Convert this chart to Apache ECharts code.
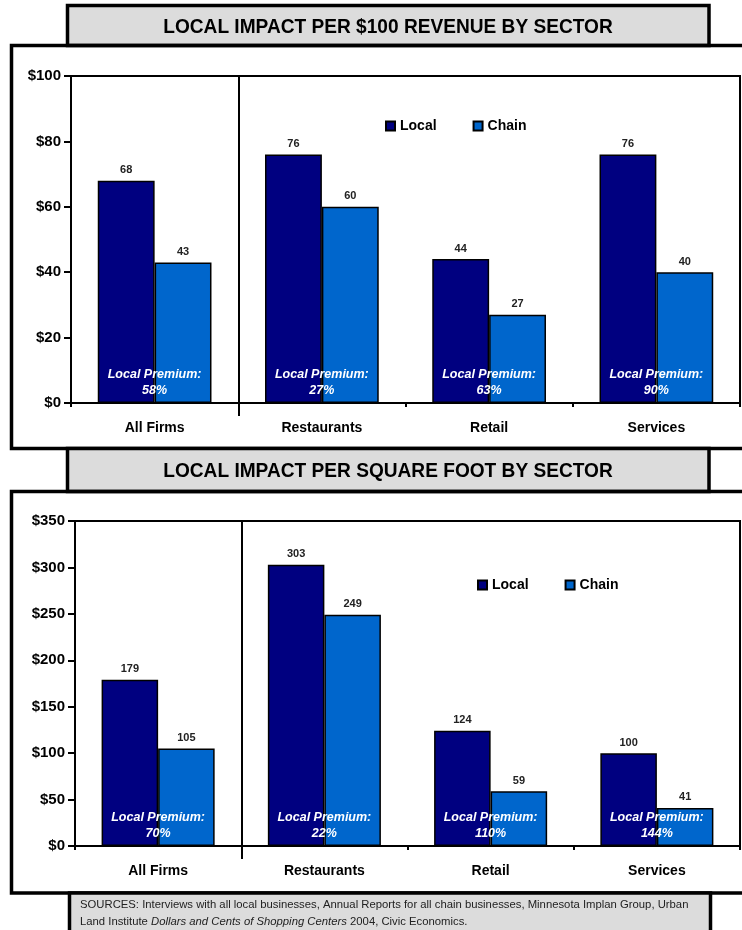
<!DOCTYPE html>
<html>
<head>
<meta charset="utf-8">
<script src="https://cdn.jsdelivr.net/npm/echarts@6/dist/echarts.min.js"></script>
<style>
  html, body { margin: 0; padding: 0; background: #fff; }
  #chart { width: 742px; height: 930px; }
</style>
</head>
<body>
<div id="chart"></div>
<script>
// Sector categories shared by both panels
const sectors = ['All Firms', 'Restaurants', 'Retail', 'Services'];

// Panel 1: local impact per $100 of revenue
const revenueLocal = [68, 76, 44, 76];
const revenueChain = [43, 60, 27, 40];
const revenuePremium = ['58%', '27%', '63%', '90%'];
const revenueAxis = { min: 0, max: 100, interval: 20 };

// Panel 2: local impact per square foot
const sqftLocal = [179, 303, 124, 100];
const sqftChain = [105, 249, 59, 41];
const sqftPremium = ['70%', '22%', '110%', '144%'];
const sqftAxis = { min: 0, max: 350, interval: 50 };

const panelTitles = [
  'LOCAL IMPACT PER $100 REVENUE BY SECTOR',
  'LOCAL IMPACT PER SQUARE FOOT BY SECTOR'
];
const seriesNames = ['Local', 'Chain'];
const sourceLine1 = 'SOURCES: Interviews with all local businesses, Annual Reports for all chain businesses, Minnesota Implan Group, Urban';
const sourceLine2a = 'Land Institute ';
const sourceLine2b = 'Dollars and Cents of Shopping Centers';
const sourceLine2c = ' 2004, Civic Economics.';

const FONT = '"Liberation Sans", Arial, sans-serif';
const LOCAL_COLOR = '#000080';
const CHAIN_COLOR = '#0066CC';
const BOX_FILL = '#dcdcdc';

const panels = [
  { local: revenueLocal, chain: revenueChain, premium: revenuePremium, axis: revenueAxis,
    grid: { left: 71, top: 76, width: 669, height: 327 }, legend: { left: 380, top: 114 } },
  { local: sqftLocal, chain: sqftChain, premium: sqftPremium, axis: sqftAxis,
    grid: { left: 75, top: 521, width: 665, height: 325 }, legend: { left: 472, top: 573 } }
];

const blackLine = { color: '#000', width: 2 };

const option = {
  backgroundColor: '#fff',
  animation: false,
  grid: panels.map(p => Object.assign({
    show: true, borderColor: '#000', borderWidth: 2, backgroundColor: 'transparent'
  }, p.grid)),
  xAxis: [],
  yAxis: [],
  legend: [],
  series: [],
  graphic: []
};

panels.forEach((p, i) => {
  // category axis carrying the bars
  option.xAxis.push({
    gridIndex: i, type: 'category', data: sectors,
    axisLine: { lineStyle: blackLine },
    axisTick: { show: true, length: 4, lineStyle: blackLine },
    axisLabel: { fontFamily: FONT, fontWeight: 'bold', fontSize: 14, color: '#000', margin: 18 },
    splitLine: { show: false }
  });
  // helper axis: divider between "All Firms" and the individual sectors
  option.xAxis.push({
    gridIndex: i, type: 'value', min: 0, max: sectors.length, position: 'bottom',
    axisLine: { show: false },
    axisLabel: { show: false },
    axisTick: { show: true, customValues: [1], length: 13, lineStyle: blackLine },
    splitLine: { show: true, lineStyle: blackLine }
  });
  option.yAxis.push({
    gridIndex: i, type: 'value',
    min: p.axis.min, max: p.axis.max, interval: p.axis.interval,
    axisLine: { show: true, lineStyle: blackLine },
    axisTick: { show: true, length: 7, lineStyle: blackLine },
    axisLabel: { formatter: v => '$' + v, fontFamily: FONT, fontWeight: 'bold', fontSize: 15, color: '#000', margin: 10 },
    splitLine: { show: false }
  });
  option.legend.push({
    data: seriesNames, left: p.legend.left, top: p.legend.top,
    orient: 'horizontal', icon: 'rect', itemWidth: 9, itemHeight: 9, itemGap: 36,
    selectedMode: false,
    itemStyle: { borderColor: '#000', borderWidth: 2 },
    textStyle: { fontFamily: FONT, fontWeight: 'bold', fontSize: 14, color: '#000' }
  });
  const valueLabel = {
    show: true, position: 'top', distance: 5,
    fontFamily: FONT, fontWeight: 'bold', fontSize: 11, color: '#222'
  };
  option.series.push({
    type: 'bar', name: seriesNames[0], xAxisIndex: 2 * i, yAxisIndex: i, data: p.local,
    barGap: '0%', barCategoryGap: '32%',
    itemStyle: { color: LOCAL_COLOR, borderColor: '#000', borderWidth: 1.5 },
    label: valueLabel
  });
  option.series.push({
    type: 'bar', name: seriesNames[1], xAxisIndex: 2 * i, yAxisIndex: i, data: p.chain,
    barGap: '0%', barCategoryGap: '32%',
    itemStyle: { color: CHAIN_COLOR, borderColor: '#000', borderWidth: 1.5 },
    label: valueLabel
  });
  // "Local Premium" notes centred on each category, just above the baseline
  option.series.push({
    type: 'scatter', name: 'premium' + i, xAxisIndex: 2 * i, yAxisIndex: i,
    data: p.premium.map(() => 0), symbolSize: 2, silent: true, z: 5, clip: false,
    itemStyle: { color: 'rgba(0,0,0,0)', opacity: 1 },
    emphasis: { disabled: true },
    label: {
      show: true, position: 'inside', offset: [0, -20], opacity: 1,
      formatter: d => 'Local Premium:\n' + p.premium[d.dataIndex],
      color: '#fff', textBorderWidth: 0, fontFamily: FONT, fontStyle: 'italic', fontWeight: 'bold',
      fontSize: 12.5, lineHeight: 16, align: 'center', verticalAlign: 'middle'
    }
  });
});

// Panel frames, title banners and the source note
const titleText = (text, y) => ({
  type: 'text', z: 2, x: 388, y: y, scaleX: 0.91,
  style: { x: 0, y: 0, text: text, align: 'center', verticalAlign: 'middle',
    font: 'bold 21px ' + FONT, fill: '#000' }
});
option.graphic = [
  { type: 'rect', z: 1, shape: { x: 67.5, y: 5.5, width: 641.5, height: 40 },
    style: { fill: BOX_FILL, stroke: '#000', lineWidth: 3.5 } },
  titleText(panelTitles[0], 27),
  { type: 'rect', z: 1, shape: { x: 11.5, y: 45.5, width: 800, height: 403 },
    style: { fill: 'none', stroke: '#000', lineWidth: 3.5 } },
  { type: 'rect', z: 1, shape: { x: 67.5, y: 448.5, width: 641.5, height: 43 },
    style: { fill: BOX_FILL, stroke: '#000', lineWidth: 3.5 } },
  titleText(panelTitles[1], 471),
  { type: 'rect', z: 1, shape: { x: 11.5, y: 491.5, width: 800, height: 401.5 },
    style: { fill: 'none', stroke: '#000', lineWidth: 3.5 } },
  { type: 'rect', z: 1, shape: { x: 69.5, y: 893, width: 641, height: 60 },
    style: { fill: BOX_FILL, stroke: '#000', lineWidth: 3.5 } },
  { type: 'text', z: 2, style: {
      x: 80, y: 896, align: 'left', verticalAlign: 'top',
      text: '{n|' + sourceLine1 + '}\n{n|' + sourceLine2a + '}{i|' + sourceLine2b + '}{n|' + sourceLine2c + '}',
      rich: {
        n: { fontFamily: FONT, fontSize: 11.3, lineHeight: 17, fill: '#222', color: '#222' },
        i: { fontFamily: FONT, fontSize: 11.3, lineHeight: 17, fontStyle: 'italic', fill: '#222', color: '#222' }
      }
    } }
];

const chart = echarts.init(document.getElementById('chart'), null, { renderer: 'canvas' });
chart.setOption(option);
</script>
</body>
</html>
